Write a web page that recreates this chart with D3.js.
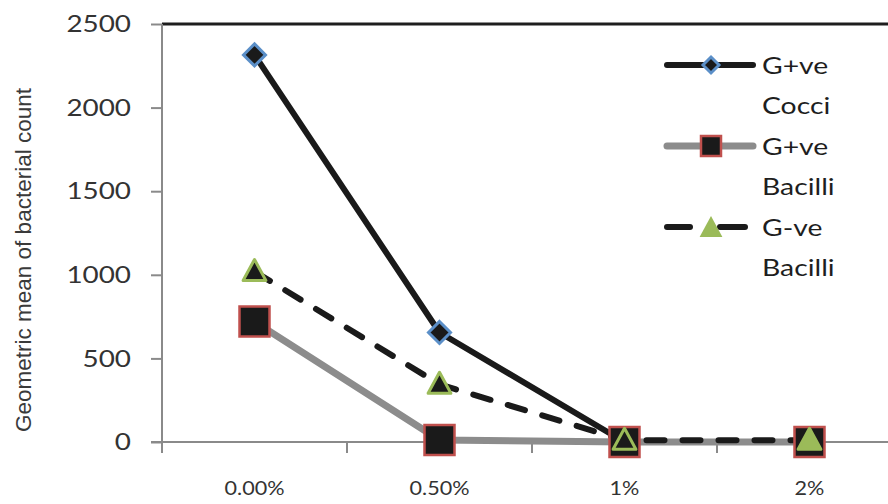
<!DOCTYPE html>
<html><head><meta charset="utf-8">
<script src="https://cdn.jsdelivr.net/npm/d3@7"></script>
<style>body{margin:0;background:#fff}svg{display:block}text{font-family:Lato,"Open Sans",sans-serif}</style>
</head><body><svg id="c" width="888" height="504"></svg>
<script>
const categories = ["0.00%", "0.50%", "1%", "2%"];
const cocci = [2315, 655, 0, 0];
const gposBacilli = [720, 12, 0, 0];
const gnegBacilli = [1020, 345, 10, 10];
const yTicks = [0, 500, 1000, 1500, 2000, 2500];
const seriesNames = [["G+ve", "Cocci"], ["G+ve", "Bacilli"], ["G-ve", "Bacilli"]];

const svg = d3.select("#c");
const x = d3.scaleBand().domain(categories).range([162, 902]);
const y = d3.scaleLinear().domain([0, 2500]).range([442, 24]);
const cx = d => x(d) + x.bandwidth() / 2;

// stretch text horizontally around its anchor point
function stretch(sel, k) {
  sel.each(function () {
    const t = d3.select(this);
    const tx = +t.attr("x") || 0, ty = +t.attr("y") || 0;
    t.attr("x", 0).attr("y", 0).attr("transform", `translate(${tx},${ty}) scale(${k},1)`);
  });
}

// top border
svg.append("line").attr("x1", 162).attr("x2", 888).attr("y1", y(2500)).attr("y2", y(2500))
  .attr("stroke", "#1e1e1e").attr("stroke-width", 3);

// y axis
const ya = svg.append("g").attr("transform", "translate(162,0)")
  .call(d3.axisLeft(y).tickValues(yTicks).tickSize(11).tickPadding(20).tickFormat(d3.format("d")));
ya.select(".domain").attr("stroke", "#8a8a8a").attr("stroke-width", 2).attr("d", `M0,${y(2500)}V${y(0) + 10}`);
ya.selectAll(".tick line").attr("stroke", "#8a8a8a").attr("stroke-width", 2);
ya.selectAll(".tick text").attr("font-size", 24).attr("fill", "#333").call(stretch, 1.16);

// x axis
const xa = svg.append("g").attr("transform", `translate(0,${y(0)})`)
  .call(d3.axisBottom(x).tickSize(0).tickPadding(39));
xa.select(".domain").attr("stroke", "#8a8a8a").attr("stroke-width", 2).attr("d", `M151,0H888`);
xa.selectAll(".tick text").attr("font-size", 20).attr("fill", "#333").call(stretch, 1.08);
xa.selectAll(".bt").data(categories.map(c => x(c)).concat([x.range()[1]])).join("line")
  .attr("x1", d => d).attr("x2", d => d).attr("y1", 0).attr("y2", 11)
  .attr("stroke", "#8a8a8a").attr("stroke-width", 2);

// y title
svg.append("text").attr("transform", "translate(31,260) rotate(-90)").attr("text-anchor", "middle")
  .style("font-family", "'Liberation Sans', Arial, sans-serif")
  .attr("font-size", 22.5).attr("fill", "#3a3a3a").text("Geometric mean of bacterial count");

const line = d3.line().x((d, i) => cx(categories[i])).y(d => y(d));

// series lines
svg.append("path").datum(cocci).attr("d", line).attr("fill", "none").attr("stroke", "#1a1a1a")
  .attr("stroke-width", 6).attr("stroke-linecap", "round").attr("stroke-linejoin", "round");
svg.append("path").datum(gposBacilli).attr("d", line).attr("fill", "none").attr("stroke", "#8c8c8c")
  .attr("stroke-width", 7).attr("stroke-linecap", "round").attr("stroke-linejoin", "round");
svg.append("path").datum(gnegBacilli).attr("d", line).attr("fill", "none").attr("stroke", "#1a1a1a")
  .attr("stroke-width", 6).attr("stroke-linecap", "round").attr("stroke-dasharray", "18,18");

const diamond = s => `M0,${-s}L${s},0L0,${s}L${-s},0Z`;
const square = s => `M${-s},${-s}H${s}V${s}H${-s}Z`;
const tri = s => `M0,${-s}L${s * 0.95},${s * 0.75}L${-s * 0.95},${s * 0.75}Z`;

// markers
svg.selectAll(".mc").data(cocci).join("path").attr("transform", (d, i) => `translate(${cx(categories[i])},${y(d)})`)
  .attr("d", diamond(11)).attr("fill", "#1a1a1a").attr("stroke", "#5b8fc8").attr("stroke-width", 3);
svg.selectAll(".ms").data(gposBacilli).join("path").attr("transform", (d, i) => `translate(${cx(categories[i])},${y(d)})`)
  .attr("d", square(15)).attr("fill", "#1a1a1a").attr("stroke", "#c0504d").attr("stroke-width", 2.5);
svg.selectAll(".mt").data(gnegBacilli).join("path").attr("transform", (d, i) => `translate(${cx(categories[i])},${y(d)})`)
  .attr("d", tri(12)).attr("fill", (d, i) => i === categories.length - 1 ? "#9bbb59" : "#1a1a1a")
  .attr("stroke", "#9bbb59").attr("stroke-width", 3).attr("stroke-linejoin", "round");

// legend
const lg = svg.append("g");
const rows = [65, 146, 227];
lg.append("line").attr("x1", 667).attr("x2", 753).attr("y1", rows[0]).attr("y2", rows[0])
  .attr("stroke", "#1a1a1a").attr("stroke-width", 6).attr("stroke-linecap", "round");
lg.append("path").attr("transform", `translate(711,${rows[0]})`).attr("d", diamond(8))
  .attr("fill", "#1a1a1a").attr("stroke", "#5b8fc8").attr("stroke-width", 3);
lg.append("line").attr("x1", 667).attr("x2", 753).attr("y1", rows[1]).attr("y2", rows[1])
  .attr("stroke", "#8c8c8c").attr("stroke-width", 7).attr("stroke-linecap", "round");
lg.append("path").attr("transform", `translate(711,${rows[1]})`).attr("d", square(10))
  .attr("fill", "#1a1a1a").attr("stroke", "#c0504d").attr("stroke-width", 2.5);
[[667, 690], [720, 745]].forEach(s => lg.append("line").attr("x1", s[0]).attr("x2", s[1])
  .attr("y1", rows[2]).attr("y2", rows[2])
  .attr("stroke", "#1a1a1a").attr("stroke-width", 6).attr("stroke-linecap", "round"));
lg.append("path").attr("transform", `translate(711,${rows[2] + 1})`).attr("d", tri(12))
  .attr("fill", "#9bbb59");
seriesNames.forEach((n, i) => {
  lg.append("text").attr("x", 762).attr("y", rows[i] + 9).attr("font-size", 24).attr("fill", "#1e1e1e").text(n[0]).call(stretch, 1.18);
  lg.append("text").attr("x", 762).attr("y", rows[i] + 49).attr("font-size", 24).attr("fill", "#1e1e1e").text(n[1]).call(stretch, 1.18);
});
</script></body></html>
